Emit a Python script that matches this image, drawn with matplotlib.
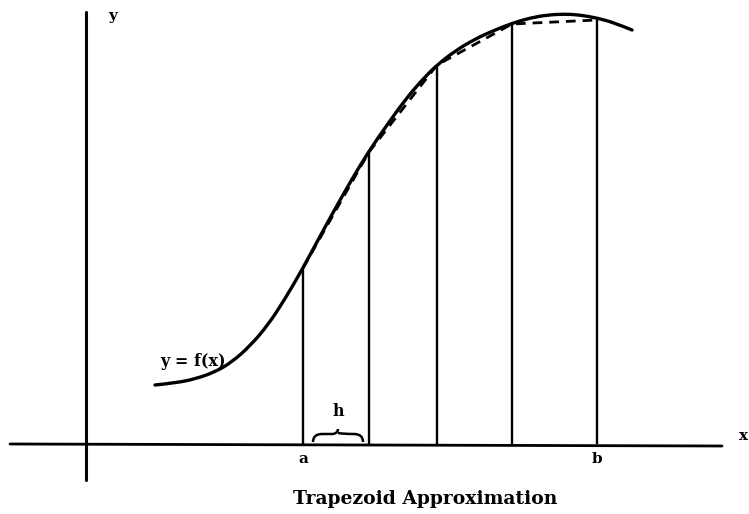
import matplotlib
matplotlib.use("Agg")
import matplotlib.pyplot as plt
from matplotlib.path import Path
from matplotlib.patches import PathPatch

# everything in picture coordinates (pixels, y grows downwards)
curve_x = [155, 175, 195, 215, 232, 250, 268, 285, 303, 318, 335, 352, 369,
           387, 405, 422, 437, 455, 475, 495, 513, 530, 547, 565, 580, 597, 615, 632]
curve_y = [385, 383, 379, 372, 362, 346, 325, 299, 268, 240, 209, 179, 151,
           125, 100, 80, 65, 51, 39, 30, 23, 18, 15, 14, 15, 18, 23, 30]

node_x = [303, 369, 437, 512, 597]
node_y = [268, 152, 65, 24, 20]
node_labels = {0: "a", 4: "b"}

axis_y = 444
axis_x = 86
x_span = [10, 722]
y_span = [12, 480]

fig = plt.figure(figsize=(7.49, 5.14), dpi=100)
ax = fig.add_axes([0, 0, 1, 1])
ax.set_xlim(0, 749)
ax.set_ylim(514, 0)
ax.axis("off")

bold = dict(family="DejaVu Serif", fontweight="bold", color="black")

# axes
ax.plot(x_span, [axis_y, axis_y + 2], color="black", lw=2.0, solid_capstyle="round")
ax.plot([axis_x, axis_x], y_span, color="black", lw=2.2, solid_capstyle="round")
ax.text(744, 436, "x", ha="center", va="center", fontsize=11, **bold)
ax.text(113, 16, "y", ha="center", va="center", fontsize=11, **bold)

# trapezoid sides
ax.vlines(node_x, node_y, axis_y, color="black", lw=1.7)

# chords (dashed)
ax.plot(node_x, node_y, color="black", lw=2.0, ls=(0, (3.5, 2.5)))

# smooth curve: quadratic spline through midpoints
pts = list(zip(curve_x, curve_y))
verts = [pts[0]]
codes = [Path.MOVETO]
for i in range(1, len(pts) - 1):
    mid = ((pts[i][0] + pts[i + 1][0]) / 2, (pts[i][1] + pts[i + 1][1]) / 2)
    if i == len(pts) - 2:
        mid = pts[-1]
    verts += [pts[i], mid]
    codes += [Path.CURVE3, Path.CURVE3]
ax.add_patch(PathPatch(Path(verts, codes), fill=False, lw=2.4,
                       edgecolor="black", capstyle="round"))
ax.text(160, 361, "y = f(x)", ha="left", va="center", fontsize=11.5, **bold)

# brace over h
b0 = node_x[0] + 10
b1 = node_x[1] - 6
bm = (b0 + b1) / 2
by = axis_y - 2
bt = axis_y - 15
bv = [(b0, by), (b0, by - 8), (b0 + 9, by - 8),
      (bm - 5, by - 8), (bm, by - 9), (bm, bt),
      (bm, by - 9), (bm + 5, by - 8),
      (b1 - 9, by - 8), (b1, by - 8), (b1, by)]
bc = [Path.MOVETO, Path.CURVE3, Path.CURVE3,
      Path.LINETO, Path.CURVE3, Path.CURVE3,
      Path.MOVETO, Path.CURVE3,
      Path.LINETO, Path.CURVE3, Path.CURVE3]
ax.add_patch(PathPatch(Path(bv, bc), fill=False, lw=1.8, edgecolor="black"))
ax.text(bm, 411, "h", ha="center", va="center", fontsize=11.5, **bold)

for i, lab in node_labels.items():
    ax.text(node_x[i], 459, lab, ha="center", va="center", fontsize=11, **bold)

ax.text(425, 499, "Trapezoid Approximation", ha="center", va="center",
        fontsize=13.5, **bold)

fig.savefig("out.png", dpi=100)
